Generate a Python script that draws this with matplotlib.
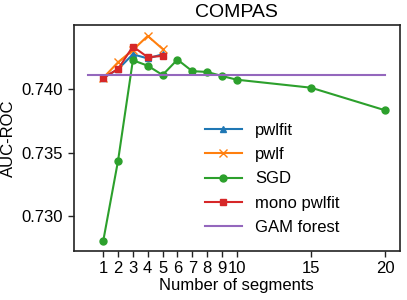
import numpy as np
import matplotlib
matplotlib.use("Agg")
import matplotlib.pyplot as plt

plt.rcParams['font.family'] = ['Liberation Sans', 'DejaVu Sans']

# data
seg_short = [1, 2, 3, 4, 5]
pwlfit = [0.74087, 0.74155, 0.74273, 0.74240, 0.74273]
pwlf = [0.74087, 0.74210, 0.74307, 0.74417, 0.74315]
mono_pwlfit = [0.74087, 0.74157, 0.74334, 0.74250, 0.74260]

seg_sgd = [1, 2, 3, 4, 5, 6, 7, 8, 9, 10, 15, 20]
sgd = [0.72803, 0.73435, 0.74226, 0.74183, 0.74110, 0.74231, 0.74140,
       0.74134, 0.74102, 0.74073, 0.74010, 0.73832]

gam_x = [0, 20]
gam_forest = [0.74111, 0.74111]

xticks = [1, 2, 3, 4, 5, 6, 7, 8, 9, 10, 15, 20]
yticks = [0.730, 0.735, 0.740]

fig = plt.figure(figsize=(4.07, 3.00), dpi=100)
ax = fig.add_axes([0.1806, 0.164, 0.8024, 0.753])

ax.plot(seg_short, pwlfit, color='#1f77b4', marker='^', markersize=5, lw=1.5, label='pwlfit')
ax.plot(seg_short, pwlf, color='#ff7f0e', marker='x', markersize=6, lw=1.5, label='pwlf')
ax.plot(seg_sgd, sgd, color='#2ca02c', marker='o', markersize=5, lw=1.5, label='SGD')
ax.plot(seg_short, mono_pwlfit, color='#d62728', marker='s', markersize=5, lw=1.5, label='mono pwlfit')
ax.plot(gam_x, gam_forest, color='#9467bd', lw=1.5, label='GAM forest')

ax.set_xlim(-1, 21)
ax.set_ylim(0.72727, 0.74504)
ax.set_xticks(xticks)
ax.set_yticks(yticks)
ax.set_yticklabels(['%.3f' % t for t in yticks])
ax.tick_params(labelsize=12, length=4, width=1, color='#222222')
for s in ax.spines.values():
    s.set_linewidth(1.2)
    s.set_color('#222222')

ax.set_title("COMPAS", fontsize=14)
ax.set_xlabel("Number of segments", fontsize=12, labelpad=1)
ax.set_ylabel("AUC-ROC", fontsize=12)
ax.legend(frameon=False, fontsize=12, loc='lower right', bbox_to_anchor=(0.86, 0.005),
          handlelength=2.2, labelspacing=0.55)

plt.savefig("out.png", dpi=100)
